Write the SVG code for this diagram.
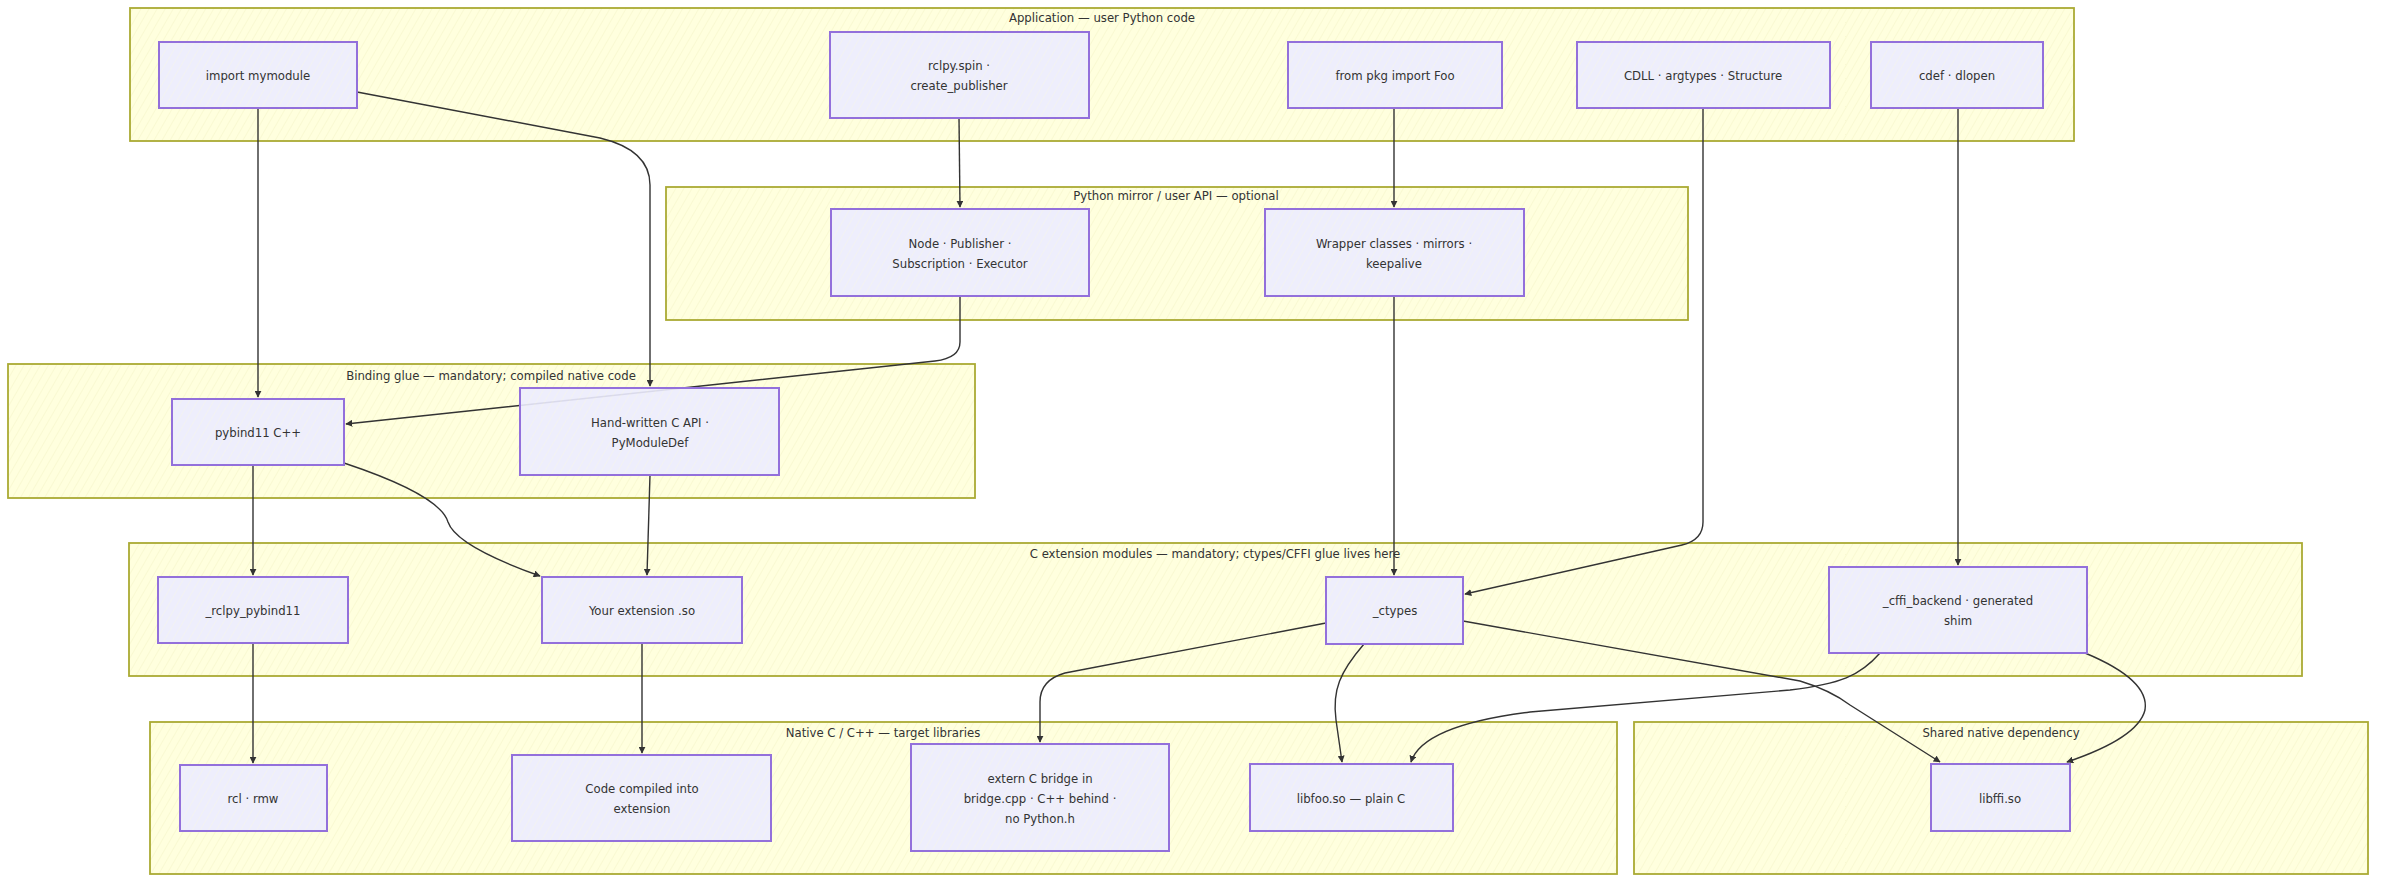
<svg xmlns="http://www.w3.org/2000/svg" width="2384" height="886" viewBox="0 0 2384 886">
<style>
.cl{stroke:#aaaa33;stroke-width:1.8;fill:url(#hy)}
.nd rect{stroke:#9370DB;stroke-width:2;fill:url(#hp);fill-opacity:0.9}
text{font-family:"DejaVu Sans Condensed","DejaVu Sans","Liberation Sans",sans-serif;font-stretch:condensed;font-size:13px;fill:#333;text-anchor:middle;dominant-baseline:central}
.e{fill:none;stroke:#333;stroke-width:1.4;marker-end:url(#ah)}
</style>
<defs>
<pattern id="hy" patternUnits="userSpaceOnUse" width="7" height="7" patternTransform="rotate(30)">
<rect width="7" height="7" fill="#ffffde"/>
<line x1="0" y1="0" x2="0" y2="7" stroke="#f3f3c6" stroke-width="1"/>
</pattern>
<pattern id="hp" patternUnits="userSpaceOnUse" width="7" height="7" patternTransform="rotate(30)">
<rect width="7" height="7" fill="#ECECFF"/>
<line x1="0" y1="0" x2="0" y2="7" stroke="#f7f7ee" stroke-width="1"/>
</pattern>
<marker id="ah" viewBox="0 0 10 10" refX="9" refY="5" markerWidth="7" markerHeight="7" orient="auto" markerUnits="userSpaceOnUse">
<path d="M0,0 L10,5 L0,10 z" fill="#333"/>
</marker>
</defs>
<rect width="2384" height="886" fill="#ffffff"/>
<g id="clusters">
<g id="cl-app"><rect class="cl" x="130" y="8" width="1944" height="133"/><text x="1102" y="17">Application — user Python code</text></g>
<g id="cl-mirror"><rect class="cl" x="666" y="187" width="1022" height="133"/><text x="1176" y="195">Python mirror / user API — optional</text></g>
<g id="cl-glue"><rect class="cl" x="8" y="364" width="967" height="134"/><text x="491" y="375">Binding glue — mandatory; compiled native code</text></g>
<g id="cl-ext"><rect class="cl" x="129" y="543" width="2173" height="133"/><text x="1215" y="553">C extension modules — mandatory; ctypes/CFFI glue lives here</text></g>
<g id="cl-native"><rect class="cl" x="150" y="722" width="1467" height="152"/><text x="883" y="732">Native C / C++ — target libraries</text></g>
<g id="cl-shared"><rect class="cl" x="1634" y="722" width="734" height="152"/><text x="2001" y="732">Shared native dependency</text></g>
</g>
<g id="connectors">
<path class="e" d="M258,108 L258,397"/>
<path class="e" d="M357,92 L600,138 Q650,150 650,185 L650,386"/>
<path class="e" d="M959,118 L960,207"/>
<path class="e" d="M1394,108 L1394,207"/>
<path class="e" d="M960,296 L960,342 Q960,358 935,361 L346,424"/>
<path class="e" d="M650,475 L647,575"/>
<path class="e" d="M253,465 L253,575"/>
<path class="e" d="M344,463 Q440,495 448,522 Q456,546 540,576"/>
<path class="e" d="M1703,108 L1703,522 Q1703,540 1682,545 L1465,594"/>
<path class="e" d="M1394,296 L1394,575"/>
<path class="e" d="M1958,108 L1958,565"/>
<path class="e" d="M253,643 L253,763"/>
<path class="e" d="M642,643 L642,753"/>
<path class="e" d="M1326,623 L1065,673 Q1040,680 1040,702 L1040,742"/>
<path class="e" d="M1364,644 C1340,672 1332,690 1336,720 L1342,762"/>
<path class="e" d="M1463,621 L1800,681 Q1830,690 1850,705 L1940,762"/>
<path class="e" d="M1880,653 C1860,676 1840,684 1790,690 L1530,712 C1450,722 1418,740 1411,762"/>
<path class="e" d="M2085,653 Q2150,680 2145,710 Q2138,738 2067,762"/>
</g>
<g id="nodes">
<g id="n-import" class="nd"><rect x="159" y="42" width="198" height="66"/><text x="258" y="75">import mymodule</text></g>
<g id="n-rclpy" class="nd"><rect x="830" y="32" width="259" height="86"/><text x="959" y="65">rclpy.spin ·</text><text x="959" y="85">create_publisher</text></g>
<g id="n-frompkg" class="nd"><rect x="1288" y="42" width="214" height="66"/><text x="1395" y="75">from pkg import Foo</text></g>
<g id="n-cdll" class="nd"><rect x="1577" y="42" width="253" height="66"/><text x="1703" y="75">CDLL · argtypes · Structure</text></g>
<g id="n-cdef" class="nd"><rect x="1871" y="42" width="172" height="66"/><text x="1957" y="75">cdef · dlopen</text></g>
<g id="n-nodepub" class="nd"><rect x="831" y="209" width="258" height="87"/><text x="960" y="243">Node · Publisher ·</text><text x="960" y="263">Subscription · Executor</text></g>
<g id="n-wrapper" class="nd"><rect x="1265" y="209" width="259" height="87"/><text x="1394" y="243">Wrapper classes · mirrors ·</text><text x="1394" y="263">keepalive</text></g>
<g id="n-pybind" class="nd"><rect x="172" y="399" width="172" height="66"/><text x="258" y="432">pybind11 C++</text></g>
<g id="n-handc" class="nd"><rect x="520" y="388" width="259" height="87"/><text x="650" y="422">Hand-written C API ·</text><text x="650" y="442">PyModuleDef</text></g>
<g id="n-rclpypb" class="nd"><rect x="158" y="577" width="190" height="66"/><text x="253" y="610">_rclpy_pybind11</text></g>
<g id="n-yourext" class="nd"><rect x="542" y="577" width="200" height="66"/><text x="642" y="610">Your extension .so</text></g>
<g id="n-ctypes" class="nd"><rect x="1326" y="577" width="137" height="67"/><text x="1395" y="610">_ctypes</text></g>
<g id="n-cffi" class="nd"><rect x="1829" y="567" width="258" height="86"/><text x="1958" y="600">_cffi_backend · generated</text><text x="1958" y="620">shim</text></g>
<g id="n-rcl" class="nd"><rect x="180" y="765" width="147" height="66"/><text x="253" y="798">rcl · rmw</text></g>
<g id="n-code" class="nd"><rect x="512" y="755" width="259" height="86"/><text x="642" y="788">Code compiled into</text><text x="642" y="808">extension</text></g>
<g id="n-extern" class="nd"><rect x="911" y="744" width="258" height="107"/><text x="1040" y="778">extern C bridge in</text><text x="1040" y="798">bridge.cpp · C++ behind ·</text><text x="1040" y="818">no Python.h</text></g>
<g id="n-libfoo" class="nd"><rect x="1250" y="764" width="203" height="67"/><text x="1351" y="798">libfoo.so — plain C</text></g>
<g id="n-libffi" class="nd"><rect x="1931" y="764" width="139" height="67"/><text x="2000" y="798">libffi.so</text></g>
</g>
</svg>
